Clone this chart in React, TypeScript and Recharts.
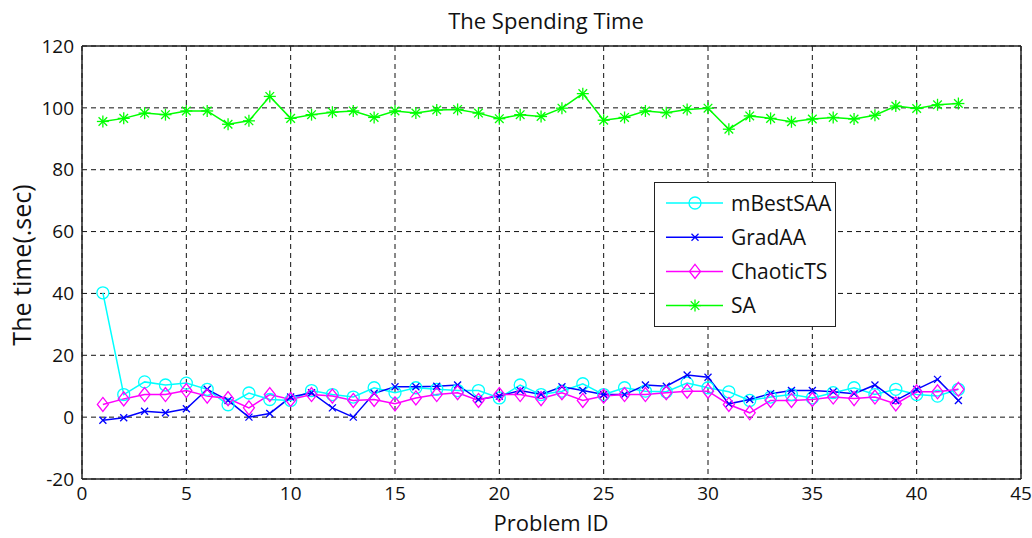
import React from 'react';
import {
  LineChart, Line, XAxis, YAxis, CartesianGrid, Legend,
} from 'recharts';

const problemIds = [
  1, 2, 3, 4, 5, 6, 7, 8, 9, 10, 11, 12, 13, 14, 15, 16, 17, 18, 19, 20, 21,
  22, 23, 24, 25, 26, 27, 28, 29, 30, 31, 32, 33, 34, 35, 36, 37, 38, 39, 40, 41, 42,
];

const mBestSAA = [
  40.2, 7.3, 11.4, 10.4, 11, 9, 4, 7.8, 5.7, 5.4, 8.6, 7.3, 6.5, 9.5, 7.9, 9.5, 9, 8.6, 8.6, 6.2, 10.4,
  7.3, 8.4, 10.8, 7.3, 9.5, 8.4, 8.2, 11, 9.5, 8.2, 5.4, 6.5, 7.3, 6.2, 7.9, 9.5, 7.3, 9, 7.3, 6.8, 9,
];

const gradAA = [
  -1, -0.2, 1.9, 1.4, 2.7, 9, 5.4, 0, 1.2, 6.5, 7.9, 3, 0, 7.7, 9.8, 9.8, 10, 10.4, 5.7, 6.8, 8.6,
  7.3, 9.8, 8.6, 7.3, 7.3, 10.4, 10, 13.6, 12.9, 4.3, 5.7, 7.6, 8.6, 8.6, 8.2, 7.6, 10.4, 5.4, 9, 12.2, 5.4,
];

const chaoticTS = [
  4.1, 5.9, 7.3, 7.3, 8.6, 6.8, 6, 3, 7.3, 5.7, 7.3, 6.8, 5.4, 5.7, 4.3, 6.2, 7.3, 7.9, 5.4, 7.3, 7.3,
  6, 7.9, 5.4, 6.8, 7.3, 7.3, 7.9, 8.4, 8.4, 4.1, 1.4, 5.4, 5.4, 5.7, 6.5, 6, 6.5, 4.3, 8.2, 8.2, 9,
];

const sa = [
  95.6, 96.6, 98.3, 97.8, 99, 99, 94.7, 95.8, 103.7, 96.6, 97.8, 98.6, 99, 96.9, 99, 98.3, 99.3, 99.5, 98.3, 96.5, 97.8,
  97.2, 99.9, 104.6, 96, 96.9, 99, 98.4, 99.5, 99.9, 93.1, 97.4, 96.6, 95.5, 96.4, 96.9, 96.4, 97.6, 100.6, 99.8, 101, 101.4,
];

const xTicks = [0, 5, 10, 15, 20, 25, 30, 35, 40, 45];
const yTicks = [-20, 0, 20, 40, 60, 80, 100, 120];

const data = problemIds.map((id, i) => ({
  id,
  mBestSAA: mBestSAA[i],
  GradAA: gradAA[i],
  ChaoticTS: chaoticTS[i],
  SA: sa[i],
}));

const FONT = '"Open Sans", "Liberation Sans", sans-serif';

type MarkerKind = 'circle' | 'x' | 'diamond' | 'star';

function Marker({ kind, cx, cy, color }: { kind: MarkerKind; cx: number; cy: number; color: string }) {
  const sw = 1.3;
  if (kind === 'circle') {
    return <circle cx={cx} cy={cy} r={6} fill="none" stroke={color} strokeWidth={sw} />;
  }
  if (kind === 'x') {
    const s = 3.5;
    return (
      <g stroke={color} strokeWidth={sw}>
        <line x1={cx - s} y1={cy - s} x2={cx + s} y2={cy + s} />
        <line x1={cx - s} y1={cy + s} x2={cx + s} y2={cy - s} />
      </g>
    );
  }
  if (kind === 'diamond') {
    const w = 5.5;
    const h = 7;
    return (
      <polygon
        points={`${cx},${cy - h} ${cx + w},${cy} ${cx},${cy + h} ${cx - w},${cy}`}
        fill="none" stroke={color} strokeWidth={sw}
      />
    );
  }
  const p = 6;
  const d = 4.3;
  return (
    <g stroke={color} strokeWidth={sw}>
      <line x1={cx - p} y1={cy} x2={cx + p} y2={cy} />
      <line x1={cx} y1={cy - p} x2={cx} y2={cy + p} />
      <line x1={cx - d} y1={cy - d} x2={cx + d} y2={cy + d} />
      <line x1={cx - d} y1={cy + d} x2={cx + d} y2={cy - d} />
    </g>
  );
}

const series: { key: string; color: string; kind: MarkerKind }[] = [
  { key: 'mBestSAA', color: '#00FFFF', kind: 'circle' },
  { key: 'GradAA', color: '#0000FF', kind: 'x' },
  { key: 'ChaoticTS', color: '#FF00FF', kind: 'diamond' },
  { key: 'SA', color: '#00FF00', kind: 'star' },
];

function LegendBox() {
  return (
    <div
      style={{
        width: 182, height: 145, boxSizing: 'border-box',
        border: '1.5px solid #222', background: '#fff', position: 'relative',
      }}
    >
      <svg width={180} height={142} style={{ position: 'absolute', left: 0, top: 0 }}>
        {series.map((s, i) => {
          const y = 20 + i * 34.2;
          return (
            <g key={s.key}>
              <line x1={11} x2={68} y1={y} y2={y} stroke={s.color} strokeWidth={1.5} />
              <Marker kind={s.kind} cx={40} cy={y} color={s.color} />
              <text x={76} y={y + 7.5} fontSize={21} fontFamily={FONT} fill="#111">{s.key}</text>
            </g>
          );
        })}
      </svg>
    </div>
  );
}

const tickStyle = { fontSize: 19, fontFamily: FONT, fill: '#111' };

export default function App() {
  return (
    <div style={{ position: 'absolute', left: 0, top: 0, width: 1032, height: 538, background: '#fff' }}>
      <LineChart
        width={1032}
        height={538}
        data={data}
        margin={{ top: 46, right: 11, bottom: 29, left: 42 }}
      >
        <CartesianGrid stroke="#111" strokeDasharray="5 4" />
        <XAxis
          dataKey="id" type="number" domain={[0, 45]} ticks={xTicks}
          tickLine={false} axisLine={{ stroke: '#222', strokeWidth: 1.5 }}
          tick={tickStyle} height={30}
        />
        <XAxis
          xAxisId="bottomTicks" dataKey="id" type="number" domain={[0, 45]} ticks={xTicks}
          mirror tick={false} axisLine={false} tickSize={5}
          tickLine={{ stroke: '#222', strokeWidth: 1.5 }}
        />
        <XAxis
          xAxisId="top" orientation="top" dataKey="id" type="number" domain={[0, 45]} ticks={xTicks}
          mirror tick={false} tickSize={5}
          axisLine={{ stroke: '#222', strokeWidth: 1.5 }}
          tickLine={{ stroke: '#222', strokeWidth: 1.5 }}
        />
        <YAxis
          type="number" domain={[-20, 120]} ticks={yTicks} width={40}
          tickLine={false} axisLine={{ stroke: '#222', strokeWidth: 1.5 }}
          tick={tickStyle}
        />
        <YAxis
          yAxisId="leftTicks" type="number" domain={[-20, 120]} ticks={yTicks}
          mirror tick={false} axisLine={false} tickSize={5}
          tickLine={{ stroke: '#222', strokeWidth: 1.5 }}
        />
        <YAxis
          yAxisId="right" orientation="right" type="number" domain={[-20, 120]} ticks={yTicks}
          mirror tick={false} tickSize={5}
          axisLine={{ stroke: '#222', strokeWidth: 1.5 }}
          tickLine={{ stroke: '#222', strokeWidth: 1.5 }}
        />
        {series.map((s) => (
          <Line
            key={s.key}
            dataKey={s.key}
            name={s.key}
            type="linear"
            stroke={s.color}
            strokeWidth={1.5}
            isAnimationActive={false}
            dot={(p: any) => (
              <Marker key={`${s.key}-${p.index}`} kind={s.kind} cx={p.cx} cy={p.cy} color={s.color} />
            )}
            activeDot={false}
          />
        ))}
        <Legend
          layout="vertical" align="center" verticalAlign="middle"
          wrapperStyle={{ left: 654, top: 182, width: 182, height: 145 }}
          content={() => <LegendBox />}
        />
      </LineChart>
      <svg width={1032} height={538} style={{ position: 'absolute', left: 0, top: 0, pointerEvents: 'none' }}>
        <text x={546} y={29} textAnchor="middle" fontSize={22} fontFamily={FONT} fill="#111">
          The Spending Time
        </text>
        <text x={551} y={531} textAnchor="middle" fontSize={22} fontFamily={FONT} fill="#111">
          Problem ID
        </text>
        <text
          x={0} y={0} textAnchor="middle" fontSize={25} fontFamily={FONT} fill="#111"
          transform="translate(31, 265) rotate(-90)"
        >
          The time(.sec)
        </text>
      </svg>
    </div>
  );
}
